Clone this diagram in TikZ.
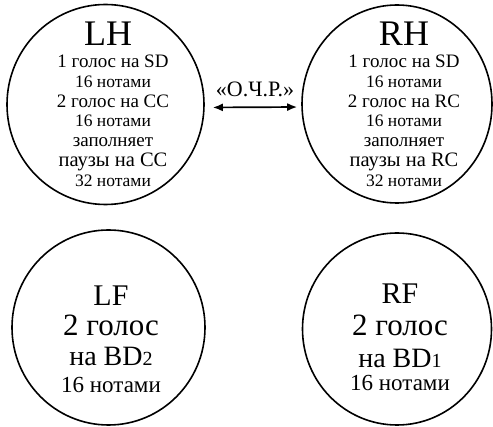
\documentclass[tikz,border=0pt]{standalone}
\usepackage{fontspec}
\setmainfont{Liberation Serif}
\usetikzlibrary{shapes.geometric,arrows.meta}
\newcommand{\fs}[1]{\fontsize{#1}{#1}\selectfont}
\begin{document}
\begin{tikzpicture}[x=1pt,y=-1pt,
  ring/.style={ellipse,draw,line width=1.6pt,inner sep=0pt},
  txt/.style={align=center,inner sep=0pt,anchor=north},
  link/.style={line width=1.7pt,{Latex[length=10pt,width=8pt]}-{Latex[length=10pt,width=8pt]}}
  ]
\useasboundingbox (0,0) rectangle (493,427);
% circles
\node[ring,minimum width=197pt,minimum height=200pt] (LH) at (105.5,104.5) {};
\node[ring,minimum width=190pt,minimum height=198pt] (RH) at (397,104) {};
\node[ring,minimum width=193pt,minimum height=195pt] (LF) at (108.5,327.5) {};
\node[ring,minimum width=189pt,minimum height=192pt] (RF) at (397,329) {};
% texts
\node[txt,font=\fontsize{19}{19.8}\selectfont] (LHt) at (113,21.5) {%
  {\fs{36}LH\hspace*{10pt}}\\[2.5pt]
  1 голос на SD\\
  {\fs{17.5}16 нотами}\\
  2 голос на CC\\
  {\fs{17.5}16 нотами}\\
  заполняет\\
  {\fs{20.5}паузы на CC}\\
  {\fs{17.5}32 нотами}};
\node[txt,font=\fontsize{19}{19.8}\selectfont] (RHt) at (404,21.5) {%
  {\fs{36}RH}\\[2.5pt]
  1 голос на SD\\
  {\fs{17.5}16 нотами}\\
  2 голос на RC\\
  {\fs{17.5}16 нотами}\\
  заполняет\\
  {\fs{20.5}паузы на RC}\\
  {\fs{17.5}32 нотами}};
\node[txt,font=\fontsize{27}{30}\selectfont] (LFt) at (111,285.5) {%
  {\fs{30}LF}\\
  {\fs{31}2 голос}\\
  {\fs{28}на BD{\fs{20}2}}\\[-3pt]
  {\fs{23}16 нотами}};
\node[txt,font=\fontsize{27}{32}\selectfont] (RFt) at (400,283.5) {%
  {\fs{30}RF}\\
  {\fs{31}2 голос}\\
  {\fs{28}на BD{\fs{20}1}}\\[-9pt]
  {\fs{23}16 нотами}};
% connector
\draw[link,shorten <=8pt,shorten >=4pt] ([yshift=-3pt]LH.east) -- ([yshift=-3pt]RH.west);
\node[anchor=base,inner sep=0pt,font=\fs{22}] (ocr) at (255,97) {«О.Ч.Р.»};
\end{tikzpicture}
\end{document}
